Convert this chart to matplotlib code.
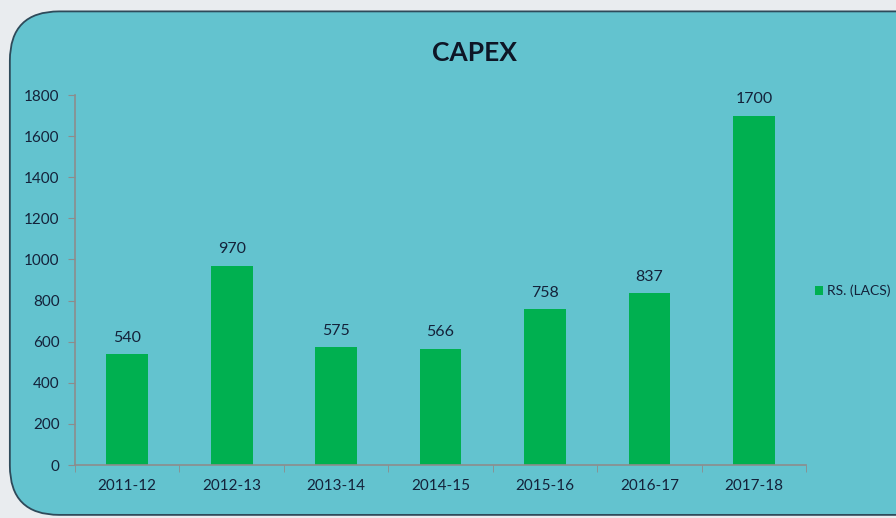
import numpy as np
import matplotlib
matplotlib.use('Agg')
from matplotlib import pyplot
from matplotlib.patches import FancyBboxPatch

YEARS = ['2011-12', '2012-13', '2013-14', '2014-15', '2015-16', '2016-17', '2017-18']
CAPEX = [540, 970, 575, 566, 758, 837, 1700]
Y_TICKS = [0, 200, 400, 600, 800, 1000, 1200, 1400, 1600, 1800]

PANEL = '#63C3CF'
BAR = '#00B050'
TEXT = '#14223A'
AXIS = '#8C8C8C'

pyplot.rcParams['font.family'] = ['Lato', 'DejaVu Sans']

fig = pyplot.figure(figsize=(8.96, 5.18), dpi=100)
fig.patch.set_facecolor('#E9ECEF')

# rounded panel behind the chart
panel = FancyBboxPatch((0.011, 0.006), 1.05, 0.972,
                       boxstyle='round,pad=0,rounding_size=0.055',
                       transform=fig.transFigure, mutation_aspect=896 / 518,
                       facecolor=PANEL, edgecolor='#2E4A5A', linewidth=1.3,
                       zorder=-10)
fig.patches.append(panel)

ax = fig.add_axes([0.0837, 0.1023, 0.8159, 0.7143])
ax.set_facecolor('none')
ax.set_zorder(1)

x = np.arange(len(YEARS))
bars = ax.bar(x, CAPEX, width=0.4, color=BAR, label='RS. (LACS)')
for xi, v in zip(x, CAPEX):
    ax.text(xi, v + 45, str(v), ha='center', va='bottom', fontsize=11.5, color=TEXT)

ax.set_xlim(-0.5, len(YEARS) - 0.5)
ax.set_ylim(0, 1800)
ax.set_yticks(Y_TICKS)
ax.set_xticks(x)
ax.set_xticklabels(YEARS)
ax.set_xticks(np.arange(-0.5, len(YEARS)), minor=True)
ax.tick_params(axis='x', which='major', length=0, pad=10, labelsize=11, labelcolor=TEXT)
ax.tick_params(axis='x', which='minor', length=5, color=AXIS, direction='out')
ax.tick_params(axis='y', length=5, color=AXIS, labelsize=11, labelcolor=TEXT, pad=6)

for side in ['top', 'right']:
    ax.spines[side].set_visible(False)
for side in ['left', 'bottom']:
    ax.spines[side].set_color(AXIS)
    ax.spines[side].set_linewidth(1.2)

fig.text(0.53, 0.898, 'CAPEX', ha='center', va='center', fontsize=19,
         fontweight='bold', color='#0E1626')

leg = ax.legend(loc='center left', bbox_to_anchor=(1.01, 0.47), frameon=False,
                fontsize=10, handlelength=0.6, handleheight=0.6, handletextpad=0.3,
                borderaxespad=0.1, borderpad=0)
for t in leg.get_texts():
    t.set_color(TEXT)

fig.savefig('out.png', dpi=100, facecolor=fig.get_facecolor())
